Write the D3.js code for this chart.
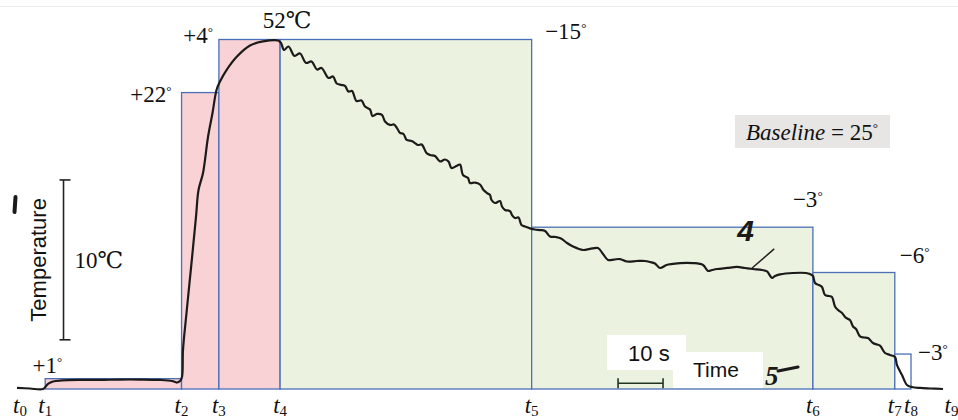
<!DOCTYPE html>
<html>
<head>
<meta charset="utf-8">
<title>Temperature trace with phase boxes</title>
<script src="https://cdn.jsdelivr.net/npm/d3@7"></script>
<style>
  body { margin: 0; background: #fff; }
  svg { display: block; }
  .num { font-family: "Liberation Serif", "DejaVu Serif", serif; font-size: 23px; fill: #111; }
  .tick { font-family: "Liberation Serif", "DejaVu Serif", serif; font-style: italic; font-size: 23px; fill: #111; }
  .sans { font-family: "Liberation Sans", Arial, sans-serif; fill: #111; }
</style>
</head>
<body>
<svg id="chart" width="958" height="420"></svg>
<script>
// phase boundaries t0..t9 (seconds after t0)
var tickNames = ["0", "1", "2", "3", "4", "5", "6", "7", "8", "9"];
var tickTimes = [0, 5.6, 35.9, 44.2, 57.8, 113.7, 176.2, 194.4, 198.0, 207];

// one box per phase, from tick boxFrom[i] to the next tick; top = level in °C
var boxFrom  = [1, 2, 3, 4, 5, 6, 7];
var boxLevel = [25.8, 47.9, 52, 52, 37.5, 34.0, 27.7];
var boxKind  = ["heat", "heat", "heat", "cool", "cool", "cool", "end"];
var stepLabels = ["+1", "+22", "+4", "\u221215", "\u22123", "\u22126", "\u22123"];

var baseTemp = 25, peakTemp = 52;

// recorder trace [seconds, °C]
var trace = [
  [-0.67, 25.08], [2.22, 25.04], [5.11, 25.0], [6.22, 25.39], [7.33, 25.58], [9.33, 25.66],
  [13.33, 25.70], [17.78, 25.70], [22.22, 25.73], [26.67, 25.73], [31.11, 25.70], [33.78, 25.62],
  [34.89, 25.50], [35.56, 25.62], [36.0, 25.93], [36.22, 28.01], [37.0, 30.87], [38.11, 34.73],
  [39.11, 38.29], [39.67, 40.37], [40.67, 41.69], [41.78, 44.47], [42.78, 46.32], [43.67, 48.10],
  [44.44, 48.76], [45.89, 49.64], [48.11, 50.65], [51.11, 51.54], [54.0, 51.85], [57.33, 51.92],
  [58.0, 51.73], [58.67, 51.19], [59.67, 51.46], [61.0, 50.73], [62.22, 50.92], [63.56, 50.19],
  [64.78, 50.30], [66.0, 49.68], [67.0, 49.80], [68.56, 49.03], [69.56, 49.14], [70.38, 48.60],
  [71.49, 48.49], [72.22, 48.41], [73.0, 47.98], [73.78, 48.02], [74.78, 47.25], [75.89, 47.29],
  [76.67, 46.82], [77.78, 46.59], [78.33, 46.09], [79.33, 46.25], [80.44, 46.17], [81.11, 45.67],
  [82.22, 45.40], [83.11, 45.43], [83.78, 45.16], [84.44, 44.78], [85.22, 44.70], [85.93, 44.24],
  [87.04, 44.16], [87.78, 44.00], [88.44, 43.85], [89.27, 43.89], [90.33, 43.23], [91.11, 43.08],
  [92.22, 43.00], [93.33, 42.58], [94.44, 42.73], [95.22, 42.58], [95.89, 42.07], [97.0, 42.23],
  [97.78, 42.34], [98.44, 41.53], [99.56, 41.30], [100.0, 40.91], [101.11, 40.95], [102.22, 40.80],
  [103.0, 40.37], [103.78, 40.14], [104.44, 39.99], [104.78, 39.60], [105.56, 39.37], [106.67, 39.52],
  [107.11, 39.10], [107.78, 38.83], [108.89, 38.75], [109.33, 38.44], [110.0, 38.21], [110.78, 38.25],
  [111.44, 37.67], [112.22, 37.55], [113.33, 37.41],
  [114.44, 37.32], [115.56, 37.28], [116.67, 37.21], [117.78, 36.78],
  [119.11, 36.74], [120.22, 36.63], [121.56, 36.28], [122.89, 36.01], [125.11, 35.74], [126.67, 35.82],
  [128.44, 35.89], [129.56, 35.43], [130.67, 34.97], [132.0, 35.00], [133.33, 35.04], [134.89, 34.85],
  [137.11, 34.89], [138.89, 34.89], [140.0, 34.81], [141.11, 34.70], [142.22, 34.35], [143.67, 34.58],
  [145.11, 34.66], [146.67, 34.73], [149.56, 34.73], [151.78, 34.58], [152.89, 34.12], [153.78, 34.19],
  [154.89, 34.27], [157.11, 34.35], [159.33, 34.43], [161.11, 34.35], [162.89, 34.27], [164.89, 34.19],
  [166.0, 34.08], [167.11, 33.58], [167.78, 33.73], [168.89, 33.85], [171.78, 33.96], [174.67, 33.96],
  [175.56, 33.88], [176.22, 33.73], [176.67, 33.19], [177.56, 33.03], [178.22, 32.88], [178.89, 32.26],
  [179.78, 32.18], [180.44, 32.11], [181.11, 31.37], [181.78, 31.10], [182.67, 30.87], [183.56, 30.49],
  [184.44, 30.33], [185.11, 29.83], [185.78, 29.64], [186.67, 29.06], [187.56, 28.98], [188.44, 28.94],
  [189.56, 28.55], [190.44, 28.44], [191.11, 28.36], [192.22, 27.78], [193.33, 27.63], [194.44, 27.47],
  [194.89, 26.85], [196.0, 26.08], [197.11, 25.31], [198.22, 25.15], [200.0, 25.08], [202.22, 25.04],
  [205.11, 25.0]
];

// scale bars drawn on the recording
var timeBar = [132.9, 142.9];      // 10 s
var timeBarTemp = 25.45;
var tempBar = [28.8, 41.15];       // "10℃" on recorder scale
var tempBarTime = 9.67;
var pointer = [[162.7, 34.35], [167.6, 35.82]];   // stroke to the "4"

var svg = d3.select("#chart");

var x = d3.scaleLinear().domain([0, 207]).range([20, 951.5]);
var y = d3.scaleLinear().domain([baseTemp, peakTemp]).range([389, 39.5]);

var fills = { heat: "#f8d2d5", cool: "#ebf2e0", end: "#ffffff" };

// faint scan edge at the top
svg.append("line")
    .attr("x1", 0).attr("x2", 958).attr("y1", 6.5).attr("y2", 6.5)
    .attr("stroke", "#ececec").attr("stroke-width", 1);

// phase boxes
svg.append("g").selectAll("rect")
    .data(boxFrom)
    .enter().append("rect")
    .attr("x", function(d) { return x(tickTimes[d]); })
    .attr("y", function(d, i) { return y(boxLevel[i]); })
    .attr("width", function(d) { return x(tickTimes[d + 1]) - x(tickTimes[d]); })
    .attr("height", function(d, i) { return y(baseTemp) - y(boxLevel[i]); })
    .attr("fill", function(d, i) { return fills[boxKind[i]]; })
    .attr("stroke", "#4a6fb8")
    .attr("stroke-width", 1.3);

// covered-up parts of the scan around the time bar
svg.append("rect")
    .attr("x", x(timeBar[0]) - 11).attr("y", 335)
    .attr("width", 79).attr("height", 35).attr("fill", "#fff");
svg.append("rect")
    .attr("x", x(timeBar[1]) + 10).attr("y", 352)
    .attr("width", 90).attr("height", 36).attr("fill", "#fff");

// the trace
var line = d3.line()
    .x(function(d) { return x(d[0]); })
    .y(function(d) { return y(d[1]); })
    .curve(d3.curveCatmullRom.alpha(0.5));

svg.append("path")
    .datum(trace)
    .attr("d", line)
    .attr("fill", "none")
    .attr("stroke", "#1d1a1a")
    .attr("stroke-width", 2.2)
    .attr("stroke-linejoin", "round");

// step labels, heat ones left of box start, cool ones right of box end
var nudge = [[17, -6], [-10, 9.5], [-6, 3.5], [13.5, -0.5], [-20, -20], [5, -9.5], [7, 6]];
var lab = svg.append("g").selectAll("text")
    .data(stepLabels)
    .enter().append("text")
    .attr("class", "num")
    .attr("text-anchor", function(d, i) { return boxKind[i] == "heat" ? "end" : "start"; })
    .attr("x", function(d, i) {
        var k = boxKind[i] == "heat" ? boxFrom[i] : boxFrom[i] + 1;
        return x(tickTimes[k]) + nudge[i][0];
    })
    .attr("y", function(d, i) { return y(boxLevel[i]) + nudge[i][1]; });
lab.append("tspan").text(function(d) { return d; });
lab.append("tspan").attr("font-size", "13px").attr("dy", -7).text("\u00b0");

// peak label
svg.append("text")
    .attr("class", "num")
    .attr("x", x(tickTimes[4]) + 7).attr("y", y(peakTemp) - 12)
    .attr("text-anchor", "middle")
    .attr("font-size", "19px")
    .text(peakTemp + "\u2103");

// baseline note
svg.append("rect")
    .attr("x", 735).attr("y", 115).attr("width", 155).attr("height", 33)
    .attr("fill", "#e7e6e5");
var bl = svg.append("text").attr("class", "num").attr("x", 746).attr("y", 140)
    .attr("font-size", "22px");
bl.append("tspan").attr("font-style", "italic").text("Baseline");
bl.append("tspan").text(" = " + baseTemp);
bl.append("tspan").attr("font-size", "13px").attr("dy", -8).text("\u00b0");

// phase tick labels t0..t9
var tl = svg.append("g").selectAll("text")
    .data(tickNames)
    .enter().append("text")
    .attr("class", "tick")
    .attr("text-anchor", "middle")
    .attr("x", function(d, i) { return x(tickTimes[i]); })
    .attr("y", 413);
tl.append("tspan").text("t");
tl.append("tspan").attr("font-style", "normal").attr("font-size", "15px").attr("dy", 3)
    .text(function(d) { return d; });

// temperature scale bar
var tb = svg.append("g").attr("stroke", "#222").attr("stroke-width", 1.6);
tb.append("line")
    .attr("x1", x(tempBarTime)).attr("x2", x(tempBarTime))
    .attr("y1", y(tempBar[0])).attr("y2", y(tempBar[1]));
tempBar.forEach(function(v) {
    tb.append("line")
        .attr("x1", x(tempBarTime) - 4).attr("x2", x(tempBarTime) + 7)
        .attr("y1", y(v)).attr("y2", y(v));
});
svg.append("text").attr("class", "num")
    .attr("x", x(tempBarTime) + 11).attr("y", y((tempBar[0] + tempBar[1]) / 2) + 8)
    .attr("font-size", "17px")
    .text("10\u2103");

svg.append("text")
    .attr("class", "sans")
    .attr("font-size", "22px")
    .attr("text-anchor", "middle")
    .attr("transform", "translate(46," + y((tempBar[0] + tempBar[1]) / 2) + ") rotate(-90)")
    .text("Temperature");

// time scale bar
var hb = svg.append("g").attr("stroke", "#223322").attr("stroke-width", 1.6);
hb.append("line")
    .attr("x1", x(timeBar[0])).attr("x2", x(timeBar[1]))
    .attr("y1", y(timeBarTemp)).attr("y2", y(timeBarTemp));
timeBar.forEach(function(v) {
    hb.append("line")
        .attr("x1", x(v)).attr("x2", x(v))
        .attr("y1", y(timeBarTemp) - 5).attr("y2", y(timeBarTemp) + 5);
});
svg.append("text").attr("class", "sans").attr("font-size", "22px")
    .attr("x", x(timeBar[0]) + 10).attr("y", 361).text("10 s");
svg.append("text").attr("class", "sans").attr("font-size", "21px")
    .attr("x", x(timeBar[1]) + 30).attr("y", 377).text("Time");

// pen marks on the scan
svg.append("line")
    .attr("x1", x(pointer[0][0])).attr("y1", y(pointer[0][1]))
    .attr("x2", x(pointer[1][0])).attr("y2", y(pointer[1][1]))
    .attr("stroke", "#222").attr("stroke-width", 1.5);
svg.append("text")
    .attr("x", x(pointer[1][0]) - 37).attr("y", y(pointer[1][1]) - 8)
    .attr("font-family", "Liberation Sans, sans-serif").attr("font-weight", "bold")
    .attr("font-style", "italic").attr("font-size", "30px").attr("fill", "#1a1a1a")
    .text("4");
svg.append("text")
    .attr("x", x(timeBar[1]) + 102).attr("y", 385)
    .attr("font-family", "Liberation Serif, serif").attr("font-weight", "bold")
    .attr("font-style", "italic").attr("font-size", "27px").attr("fill", "#1a1a1a")
    .text("5");
svg.append("line")
    .attr("x1", x(timeBar[1]) + 115).attr("y1", 371)
    .attr("x2", x(timeBar[1]) + 135).attr("y2", 367)
    .attr("stroke", "#1a1a1a").attr("stroke-width", 3).attr("stroke-linecap", "round");
svg.append("line")
    .attr("x1", 15.5).attr("y1", 197).attr("x2", 14.5).attr("y2", 212)
    .attr("stroke", "#1a1a1a").attr("stroke-width", 4).attr("stroke-linecap", "round");
</script>
</body>
</html>
